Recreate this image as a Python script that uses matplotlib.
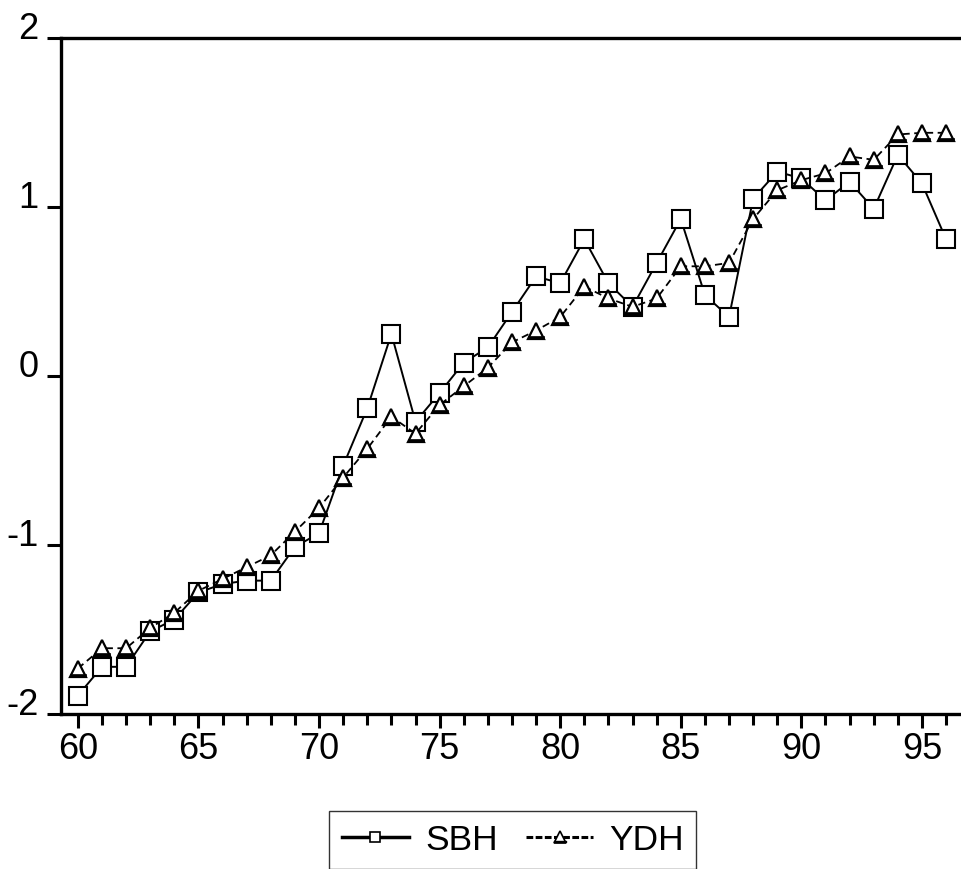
import numpy as np
import matplotlib.pyplot as plt
from matplotlib.path import Path
from matplotlib.lines import Line2D

plt.rcParams['font.family'] = ['Liberation Sans', 'DejaVu Sans']
plt.rcParams['axes.unicode_minus'] = False

years = np.arange(60, 97)
sbh = [-1.89, -1.72, -1.72, -1.51, -1.44, -1.28, -1.23, -1.21, -1.21, -1.01,
       -0.93, -0.53, -0.19, 0.25, -0.27, -0.10, 0.08, 0.17, 0.38, 0.59,
       0.55, 0.81, 0.55, 0.41, 0.67, 0.93, 0.48, 0.35, 1.05, 1.21,
       1.17, 1.04, 1.15, 0.99, 1.31, 1.14, 0.81]
ydh = [-1.73, -1.61, -1.61, -1.49, -1.40, -1.27, -1.20, -1.13, -1.06, -0.92,
       -0.78, -0.60, -0.43, -0.24, -0.34, -0.17, -0.06, 0.05, 0.20, 0.27,
       0.35, 0.53, 0.46, 0.41, 0.46, 0.65, 0.65, 0.67, 0.93, 1.10,
       1.16, 1.20, 1.30, 1.28, 1.43, 1.44, 1.44]

# thick base bar that sits under the hollow triangle (same scale as '^')
base_bar = Path([(0, 1), (-1.1, -1.05), (1.1, -1.05), (1.1, -0.7),
                 (-1.1, -0.7), (-1.1, -1.05)],
                [Path.MOVETO, Path.MOVETO, Path.LINETO, Path.LINETO,
                 Path.LINETO, Path.CLOSEPOLY])

fig = plt.figure(figsize=(9.62, 8.70), dpi=100)
ax = fig.add_axes([0.0634, 0.178, 0.9366, 0.777])

ax.plot(years, sbh, '-', color='black', lw=1.4, marker='s', markersize=12.5,
        markerfacecolor='white', markeredgecolor='black', markeredgewidth=1.5)
ax.plot(years, ydh, '--', color='black', lw=1.3, dashes=(4, 2.5), marker='^',
        markersize=11.5, markerfacecolor='white', markeredgecolor='black',
        markeredgewidth=1.6)
ax.plot(years, ydh, ls='none', marker=base_bar, markersize=11.5,
        markerfacecolor='black', markeredgecolor='black', markeredgewidth=0.5)

ax.set_xlim(59.3, 96.66)
ax.set_ylim(-2, 2)
ax.set_xticks(range(60, 100, 5))
ax.set_xticks(years, minor=True)
ax.set_yticks([-2, -1, 0, 1, 2])
ax.tick_params(axis='both', which='major', direction='out', length=10,
               width=2.2, labelsize=26)
ax.tick_params(axis='x', which='major', pad=2)
ax.tick_params(axis='y', which='major', pad=6)
ax.tick_params(axis='x', which='minor', direction='out', length=8, width=2.2)
for lab in ax.get_yticklabels():
    lab.set_verticalalignment('baseline')

for s in ['left', 'bottom', 'top']:
    ax.spines[s].set_linewidth(2.4)
ax.spines['right'].set_visible(False)

h_sbh = Line2D([], [], color='black', lw=2.5, marker='s', markersize=7,
               markerfacecolor='white', markeredgecolor='black',
               markeredgewidth=1.2)
h_ydh = (Line2D([], [], color='black', lw=2.2, dashes=(2.2, 0.8),
                marker='^', markersize=8, markerfacecolor='white',
                markeredgecolor='black', markeredgewidth=1.2),
         Line2D([], [], ls='none', marker=base_bar, markersize=8,
                markerfacecolor='black', markeredgecolor='black'))

leg = fig.legend([h_sbh, h_ydh], ['SBH', 'YDH'], loc='upper center',
                 bbox_to_anchor=(0.533, 1 - 812 / 870), borderaxespad=0,
                 ncol=2, fontsize=25.5, frameon=True, fancybox=False,
                 edgecolor='black', handlelength=1.9, columnspacing=0.8,
                 handletextpad=0.45, borderpad=0.35)
leg.get_frame().set_linewidth(1.0)

plt.savefig('out.png', dpi=100)
